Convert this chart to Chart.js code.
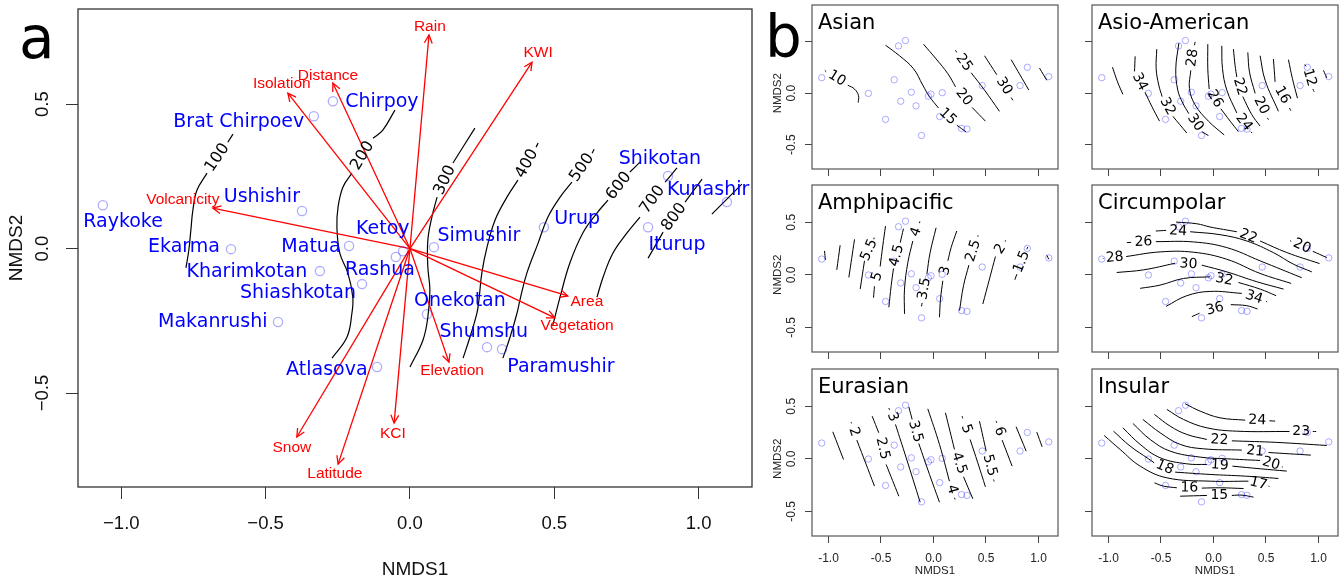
<!DOCTYPE html>
<html>
<head>
<meta charset="utf-8">
<script src="https://cdn.jsdelivr.net/npm/chart.js@4"></script>
<style>
html, body { margin: 0; padding: 0; background: #fff; }
#wrap { position: relative; width: 1344px; height: 583px; overflow: hidden; }
canvas { position: absolute; }
</style>
</head>
<body>
<div id="wrap">
  <canvas id="pa"></canvas>
  <canvas id="b0"></canvas><canvas id="b1"></canvas>
  <canvas id="b2"></canvas><canvas id="b3"></canvas>
  <canvas id="b4"></canvas><canvas id="b5"></canvas>
</div>
<script>
// ---- data -------------------------------------------------------------
const X_TICKS = [-1, -0.5, 0, 0.5, 1];
const Y_TICKS = [-0.5, 0, 0.5];

// NMDS site scores
const siteNames = ['Raykoke', 'Brat Chirpoev', 'Chirpoy', 'Ushishir', 'Ekarma', 'Matua', 'Kharimkotan',
  'Ketoy', 'Rashua', 'Shiashkotan', 'Makanrushi', 'Atlasova', 'Simushir', 'Onekotan', 'Shumshu',
  'Paramushir', 'Urup', 'Shikotan', 'Kunashir', 'Iturup'];
const siteX = [-1.064, -0.333, -0.267, -0.374, -0.620, -0.211, -0.312, -0.024, -0.049, -0.166,
  -0.457, -0.114, 0.083, 0.059, 0.267, 0.319, 0.464, 0.894, 1.098, 0.825];
const siteY = [0.150, 0.458, 0.510, 0.130, -0.002, 0.009, -0.078, -0.009, -0.029, -0.123,
  -0.254, -0.410, 0.005, -0.227, -0.341, -0.348, 0.074, 0.251, 0.161, 0.074];
// where the site names sit (data units)
const siteLabelX = [-0.994, -0.593, -0.097, -0.513, -0.783, -0.343, -0.565, -0.094, -0.104, -0.388,
  -0.683, -0.288, 0.239, 0.173, 0.256, 0.523, 0.579, 0.866, 1.033, 0.925];
const siteLabelY = [0.092, 0.438, 0.507, 0.178, 0.005, 0.005, -0.081, 0.067, -0.074, -0.154,
  -0.254, -0.420, 0.043, -0.182, -0.289, -0.410, 0.102, 0.310, 0.202, 0.012];

// envfit vectors
const envNames = ['Rain', 'KWI', 'Distance', 'Isolation', 'Volcanicity', 'Area', 'Vegetation',
  'Elevation', 'KCI', 'Snow', 'Latitude'];
const envX = [0.066, 0.423, -0.267, -0.423, -0.683, 0.547, 0.502, 0.135, -0.055, -0.392, -0.249];
const envY = [0.739, 0.645, 0.573, 0.538, 0.140, -0.164, -0.240, -0.393, -0.604, -0.652, -0.746];
const envLabelX = [0.069, 0.444, -0.284, -0.444, -0.787, 0.613, 0.579, 0.146, -0.059, -0.409, -0.260];
const envLabelY = [0.766, 0.676, 0.597, 0.569, 0.168, -0.185, -0.268, -0.424, -0.639, -0.688, -0.778];

// ordisurf contours: [level, points]; null marks the gap where the level is written
const elevLines = [
  [100, [[-0.613, 0.396], [-0.631, 0.368], null, [-0.703, 0.261], [-0.738, 0.202], [-0.752, 0.133], [-0.759, 0.064], [-0.766, -0.005], [-0.776, -0.067]]],
  [200, [[-0.052, 0.479], [-0.094, 0.410], [-0.128, 0.382], null, [-0.201, 0.261], [-0.232, 0.213], [-0.249, 0.144], [-0.253, 0.074], [-0.243, -0.016], [-0.215, -0.085], [-0.198, -0.168], [-0.201, -0.223], [-0.218, -0.306], [-0.270, -0.379]]],
  [300, [[0.225, 0.417], [0.149, 0.296], null, [0.094, 0.178], [0.076, 0.109], [0.062, 0.029], [0.062, -0.064], [0.069, -0.144], [0.062, -0.237], [0.045, -0.317], [0.000, -0.410]]],
  [400, [[0.444, 0.365], [0.437, 0.351], null, [0.374, 0.237], [0.336, 0.178], [0.295, 0.099], [0.267, 0.005], [0.249, -0.085], [0.239, -0.178], [0.232, -0.223], [0.208, -0.306], [0.184, -0.379]]],
  [500, [[0.638, 0.344], [0.631, 0.330], null, [0.561, 0.230], [0.520, 0.178], [0.478, 0.109], [0.444, 0.019], [0.405, -0.085], [0.381, -0.178], [0.371, -0.223], [0.347, -0.306], [0.322, -0.379]]],
  [600, [[0.797, 0.299], [0.762, 0.265], null, [0.686, 0.168], [0.648, 0.123], [0.599, 0.054], [0.554, -0.050], [0.520, -0.168], [0.495, -0.265]]],
  [700, [[0.925, 0.279], [0.884, 0.230], null, [0.797, 0.109], [0.752, 0.054], [0.703, -0.016], [0.669, -0.099], [0.648, -0.168]]],
  [800, [[1.012, 0.240], [0.953, 0.161], null, [0.877, 0.057], [0.825, -0.033]]],
  [null, [[1.150, 0.223], [1.046, 0.119]]]
];

const asianLines = [
  [10, [[-1.035, 0.221], [-1.022, 0.208], null, [-0.816, 0.078], [-0.752, 0.040], [-0.714, -0.024], [-0.717, -0.090]]],
  [15, [[-0.457, 0.465], [-0.324, 0.363], [-0.190, 0.237], [-0.102, 0.078], [-0.038, -0.033], [0.048, -0.144], null, [0.222, -0.310], [0.311, -0.376]]],
  [20, [[-0.095, 0.475], [0.025, 0.332], [0.137, 0.189], [0.210, 0.062], null, [0.368, -0.138], [0.495, -0.271]]],
  [25, [[0.210, 0.417], [0.222, 0.395], null, [0.359, 0.198], [0.486, 0.030], [0.629, -0.176]]],
  [30, [[0.486, 0.363], [0.603, 0.179], null, [0.740, -0.043], [0.756, -0.068]]],
  [null, [[0.740, 0.325], [0.908, 0.030]]],
  [null, [[1.010, 0.243], [1.079, 0.125]]]
];

const asioLines = [
  [null, [[-0.962, 0.252], [-0.914, 0.110], [-0.863, -0.011]]],
  [34, [[-0.746, 0.357], [-0.752, 0.211], null, [-0.651, 0.008], [-0.587, -0.129], [-0.514, -0.271]]],
  [32, [[-0.540, 0.427], [-0.546, 0.237], [-0.521, 0.078], [-0.489, -0.033], null, [-0.387, -0.224], [-0.254, -0.386]]],
  [30, [[-0.330, 0.484], [-0.359, 0.237], [-0.340, 0.030], [-0.292, -0.097], [-0.235, -0.198], null, [-0.111, -0.373], [-0.048, -0.411]]],
  [28, [[-0.175, 0.497], [-0.181, 0.465], null, [-0.216, 0.221], [-0.229, 0.046], [-0.175, -0.113], [-0.048, -0.271], [0.102, -0.405]]],
  [26, [[-0.054, 0.475], [-0.054, 0.237], [-0.041, 0.040], null, [0.070, -0.151], [0.159, -0.271], [0.238, -0.373]]],
  [24, [[0.079, 0.459], [0.086, 0.237], [0.127, 0.030], [0.222, -0.192], null, [0.356, -0.373], [0.368, -0.386]]],
  [22, [[0.190, 0.427], [0.206, 0.268], [0.222, 0.157], null, [0.279, -0.033], [0.365, -0.208], [0.444, -0.319]]],
  [20, [[0.327, 0.395], [0.343, 0.205], [0.397, -0.002], null, [0.514, -0.240], [0.524, -0.256]]],
  [null, [[0.444, 0.363], [0.492, 0.125], [0.619, -0.176]]],
  [16, [[0.571, 0.332], [0.587, 0.110], null, [0.724, -0.144], [0.737, -0.170]]],
  [null, [[0.714, 0.325], [0.752, 0.141], [0.800, -0.049]]],
  [12, [[0.867, 0.275], [0.883, 0.262], null, [0.946, 0.040], [0.959, 0.014]]],
  [null, [[1.048, 0.221], [1.079, 0.148]]]
];

const amphiLines = [
  [null, [[-1.038, 0.227], [-1.029, 0.142]]],
  [null, [[-0.889, 0.281], [-0.921, 0.047]]],
  [null, [[-0.752, 0.338], [-0.806, -0.025]]],
  [5.5, [[-0.565, 0.354], [-0.568, 0.338], null, [-0.657, 0.133], [-0.698, -0.136]]],
  [5, [[-0.457, 0.464], [-0.483, 0.275], [-0.508, 0.079], null, [-0.562, -0.110], [-0.571, -0.218]]],
  [4.5, [[-0.286, 0.439], [-0.317, 0.306], null, [-0.381, 0.060], [-0.403, -0.104], [-0.425, -0.309]]],
  [4, [[-0.130, 0.508], [-0.133, 0.492], null, [-0.197, 0.322], [-0.244, 0.117], [-0.276, -0.136], [-0.276, -0.372]]],
  [3.5, [[0.025, 0.448], [-0.032, 0.211], [-0.063, 0.006], null, [-0.108, -0.268], [-0.114, -0.300]]],
  [3, [[0.222, 0.417], [0.168, 0.259], [0.137, 0.133], null, [0.089, -0.057], [0.067, -0.230], [0.057, -0.404]]],
  [2.5, [[0.425, 0.376], [0.422, 0.363], null, [0.337, 0.092], [0.286, -0.104], [0.248, -0.341]]],
  [2, [[0.686, 0.328], [0.683, 0.316], null, [0.590, 0.174], [0.533, -0.041], [0.470, -0.278]]],
  [1.5, [[0.898, 0.265], [0.889, 0.243], null, [0.794, 0.006], [0.775, -0.047]]],
  [null, [[1.079, 0.186], [1.098, 0.148]]]
];

const circLines = [
  [22, [[-0.356, 0.502], [-0.159, 0.486], [-0.032, 0.455], [0.095, 0.432], [0.222, 0.410], null, [0.444, 0.322], [0.698, 0.212], [1.010, 0.107]]],
  [24, [[-0.549, 0.417], [-0.451, 0.423], null, [-0.222, 0.410], [0.063, 0.382], [0.317, 0.322], [0.571, 0.211], [0.762, 0.101], [0.937, 0.028]]],
  [26, [[-0.825, 0.306], [-0.784, 0.309], null, [-0.549, 0.316], [-0.190, 0.313], [0.127, 0.259], [0.444, 0.133], [0.841, -0.028]]],
  [28, [[-1.054, 0.155], [-1.048, 0.155], null, [-0.832, 0.174], [-0.508, 0.218], [-0.190, 0.215], [0.127, 0.148], [0.444, 0.013], [0.740, -0.082]]],
  [30, [[-0.921, 0.022], [-0.667, 0.047], [-0.365, 0.110], null, [-0.111, 0.092], [0.127, 0.028], [0.413, -0.066], [0.667, -0.136]]],
  [32, [[-0.698, -0.129], [-0.508, -0.098], [-0.286, -0.035], [-0.032, -0.019], null, [0.238, -0.073], [0.444, -0.136], [0.597, -0.199]]],
  [34, [[-0.451, -0.300], [-0.254, -0.199], [-0.032, -0.158], [0.270, -0.177], null, [0.502, -0.253], [0.511, -0.259]]],
  [36, [[-0.206, -0.398], [-0.133, -0.366], null, [0.165, -0.284], [0.317, -0.294], [0.419, -0.325]]],
  [20, [[0.730, 0.325], [0.740, 0.319], null, [0.946, 0.224], [1.079, 0.164]]]
];

const eurLines = [
  [null, [[-0.959, 0.257], [-0.857, -0.006]]],
  [2, [[-0.784, 0.349], [-0.781, 0.337], null, [-0.730, 0.178], [-0.562, -0.260]]],
  [2.5, [[-0.584, 0.406], [-0.521, 0.248], null, [-0.451, -0.054], [-0.330, -0.356]]],
  [3, [[-0.425, 0.483], [-0.419, 0.467], null, [-0.362, 0.327], [-0.260, 0.010], [-0.127, -0.413]]],
  [3.5, [[-0.235, 0.495], [-0.203, 0.375], null, [-0.140, 0.146], [-0.038, -0.149], [0.057, -0.413]]],
  [4, [[-0.054, 0.476], [0.057, 0.137], [0.152, -0.213], null, [0.200, -0.371], [0.206, -0.387]]],
  [4.5, [[0.114, 0.438], [0.200, 0.089], null, [0.286, -0.171], [0.375, -0.381]]],
  [5, [[0.273, 0.406], [0.279, 0.384], null, [0.349, 0.184], [0.422, -0.038], [0.495, -0.267]]],
  [5.5, [[0.438, 0.359], [0.502, 0.073], null, [0.571, -0.197], [0.578, -0.216]]],
  [6, [[0.597, 0.359], [0.603, 0.343], null, [0.654, 0.178], [0.749, -0.070]]],
  [null, [[0.787, 0.305], [0.883, 0.073]]],
  [null, [[0.984, 0.254], [1.035, 0.114]]]
];

const insLines = [
  [24, [[-0.270, 0.524], [-0.127, 0.454], [0.063, 0.390], [0.302, 0.368], null, [0.533, 0.362], [0.587, 0.359]]],
  [23, [[-0.444, 0.470], [-0.286, 0.375], [-0.063, 0.295], [0.222, 0.263], [0.724, 0.260], null, [0.946, 0.260], [0.978, 0.260]]],
  [22, [[-0.562, 0.422], [-0.413, 0.311], [-0.254, 0.232], [-0.063, 0.184], null, [0.175, 0.171], [0.603, 0.156], [1.079, 0.127]]],
  [21, [[-0.673, 0.375], [-0.508, 0.248], [-0.317, 0.137], [-0.095, 0.095], [0.270, 0.083], null, [0.524, 0.060], [0.927, 0.035]]],
  [20, [[-0.768, 0.337], [-0.603, 0.184], [-0.413, 0.073], [-0.127, 0.016], [0.127, 0.000], [0.444, -0.016], null, [0.651, -0.076], [0.660, -0.079]]],
  [19, [[-0.863, 0.295], [-0.698, 0.137], [-0.508, 0.010], [-0.254, -0.048], [-0.063, -0.054], null, [0.181, -0.070], [0.444, -0.095], [0.698, -0.117]]],
  [18, [[-0.952, 0.263], [-0.794, 0.121], [-0.619, 0.000], [-0.565, -0.038], null, [-0.365, -0.127], [-0.032, -0.149], [0.302, -0.165], [0.619, -0.187]]],
  [17, [[-1.041, 0.222], [-0.889, 0.089], [-0.698, -0.070], [-0.444, -0.181], [-0.032, -0.213], [0.333, -0.213], null, [0.524, -0.260], [0.533, -0.263]]],
  [16, [[-0.562, -0.229], [-0.476, -0.260], [-0.349, -0.276], null, [-0.111, -0.279], [0.063, -0.276], [0.286, -0.283]]],
  [15, [[-0.317, -0.356], [-0.063, -0.349], null, [0.175, -0.349], [0.270, -0.346], [0.381, -0.365]]]
];

const panelTitles = ['Asian', 'Asio-American', 'Amphipacific', 'Circumpolar', 'Eurasian', 'Insular'];
const panelLines = [asianLines, asioLines, amphiLines, circLines, eurLines, insLines];

// ---- helpers ----------------------------------------------------------
const AXFONT = '"Liberation Sans", Arial, sans-serif';
const TXFONT = '"DejaVu Sans", Verdana, sans-serif';
const PT_COL = 'rgba(0,0,255,0.33)';

function axes(xr, yr, leftW, bottomH, tickLen, tickCol) {
  const grid = { drawOnChartArea: false, drawTicks: true, tickLength: tickLen, color: tickCol, lineWidth: 1 };
  return {
    x: {
      type: 'linear', min: xr[0], max: xr[1],
      afterBuildTicks: s => { s.ticks = X_TICKS.map(v => ({ value: v })); },
      afterFit: s => { s.height = bottomH; s.paddingLeft = 0; s.paddingRight = 0; },
      ticks: { display: false }, grid: grid, border: { display: false }
    },
    y: {
      type: 'linear', min: yr[0], max: yr[1],
      afterBuildTicks: s => { s.ticks = Y_TICKS.map(v => ({ value: v })); },
      afterFit: s => { s.width = leftW; s.paddingTop = 0; s.paddingBottom = 0; },
      ticks: { display: false }, grid: grid, border: { display: false }
    }
  };
}

function contourSets(lines, width) {
  return lines.map(([level, pts]) => ({
    level: level,
    data: pts.map((p, i) => p ? { x: p[0], y: p[1] } : { x: pts[i - 1][0], y: null }),
    showLine: true, spanGaps: false, fill: false,
    borderColor: '#000', borderWidth: width, pointRadius: 0, tension: 0.4
  }));
}

function siteSet(radius, bw) {
  return {
    data: siteX.map((v, i) => ({ x: v, y: siteY[i] })),
    showLine: false, pointStyle: 'circle', pointRadius: radius,
    pointBorderColor: PT_COL, pointBackgroundColor: 'rgba(0,0,0,0)', pointBorderWidth: bw
  };
}

function drawContourLabels(chart, font) {
  const ctx = chart.ctx, xs = chart.scales.x, ys = chart.scales.y;
  ctx.save();
  ctx.font = font; ctx.fillStyle = '#000';
  ctx.textAlign = 'center'; ctx.textBaseline = 'middle';
  chart.data.datasets.forEach(ds => {
    if (ds.level == null) return;
    const k = ds.data.findIndex(p => p.y === null);
    if (k < 1) return;
    const p = ds.data[k - 1], q = ds.data[k + 1];
    const x1 = xs.getPixelForValue(p.x), y1 = ys.getPixelForValue(p.y);
    const x2 = xs.getPixelForValue(q.x), y2 = ys.getPixelForValue(q.y);
    let ang = Math.atan2(y2 - y1, x2 - x1);
    if (ang > Math.PI / 2) ang -= Math.PI;
    else if (ang <= -Math.PI / 2) ang += Math.PI;
    ctx.save();
    ctx.translate((x1 + x2) / 2, (y1 + y2) / 2);
    ctx.rotate(ang);
    ctx.fillText(String(ds.level), 0, 0);
    ctx.restore();
  });
  ctx.restore();
}

function fmt(v, minus) {
  const s = v.toFixed(1);
  return v < 0 ? minus + s.slice(1) : s;
}

function baseOptions(scales, pad) {
  return {
    responsive: false, animation: false, devicePixelRatio: 1, events: [],
    layout: { padding: pad },
    plugins: { legend: { display: false }, tooltip: { enabled: false } },
    scales: scales
  };
}

// ---- panel a ----------------------------------------------------------
(function () {
  const W = 760, H = 583;
  const box = { l: 78, t: 9, r: 752, b: 487 };
  const cv = document.getElementById('pa');
  cv.width = W; cv.height = H; cv.style.left = '0px'; cv.style.top = '0px';

  const arrows = envNames.map((n, i) => ({
    arrow: true, data: [{ x: 0, y: 0 }, { x: envX[i], y: envY[i] }],
    showLine: true, borderColor: '#ff0000', borderWidth: 1.3, pointRadius: 0, tension: 0
  }));

  const deco = {
    id: 'decoA',
    afterDatasetsDraw(chart) {
      const ctx = chart.ctx, xs = chart.scales.x, ys = chart.scales.y;
      drawContourLabels(chart, '16px ' + TXFONT);
      // arrow heads
      ctx.save();
      ctx.strokeStyle = '#ff0000'; ctx.lineWidth = 1.3;
      envX.forEach((v, i) => {
        const x0 = xs.getPixelForValue(0), y0 = ys.getPixelForValue(0);
        const x1 = xs.getPixelForValue(v), y1 = ys.getPixelForValue(envY[i]);
        const a = Math.atan2(y1 - y0, x1 - x0), L = 9, s = 0.45;
        ctx.beginPath();
        ctx.moveTo(x1 - L * Math.cos(a - s), y1 - L * Math.sin(a - s));
        ctx.lineTo(x1, y1);
        ctx.lineTo(x1 - L * Math.cos(a + s), y1 - L * Math.sin(a + s));
        ctx.stroke();
      });
      ctx.restore();
    },
    afterDraw(chart) {
      const ctx = chart.ctx, xs = chart.scales.x, ys = chart.scales.y, a = chart.chartArea;
      ctx.save();
      ctx.strokeStyle = '#333'; ctx.lineWidth = 1.3;
      ctx.strokeRect(a.left, a.top, a.right - a.left, a.bottom - a.top);
      ctx.textAlign = 'center'; ctx.textBaseline = 'middle';
      // vector labels
      ctx.fillStyle = '#ff0000'; ctx.font = '15.5px ' + AXFONT;
      envNames.forEach((n, i) => ctx.fillText(n, xs.getPixelForValue(envLabelX[i]), ys.getPixelForValue(envLabelY[i])));
      // site labels
      ctx.fillStyle = '#0000ff'; ctx.font = '19px ' + TXFONT;
      siteNames.forEach((n, i) => ctx.fillText(n, xs.getPixelForValue(siteLabelX[i]), ys.getPixelForValue(siteLabelY[i])));
      // axes text
      ctx.fillStyle = '#111'; ctx.font = '18.5px ' + AXFONT;
      X_TICKS.forEach(v => ctx.fillText(fmt(v, '\u2212'), xs.getPixelForValue(v), 524));
      Y_TICKS.forEach(v => {
        ctx.save(); ctx.translate(43, ys.getPixelForValue(v)); ctx.rotate(-Math.PI / 2);
        ctx.fillText(fmt(v, '\u2212'), 0, 0); ctx.restore();
      });
      ctx.font = '19px ' + AXFONT;
      ctx.fillText('NMDS1', (a.left + a.right) / 2, 570);
      ctx.save(); ctx.translate(17, (a.top + a.bottom) / 2); ctx.rotate(-Math.PI / 2);
      ctx.fillText('NMDS2', 0, 0); ctx.restore();
      // panel letter
      ctx.fillStyle = '#000'; ctx.font = '58px ' + TXFONT;
      ctx.textAlign = 'left'; ctx.textBaseline = 'alphabetic';
      ctx.fillText('a', 19, 58);
      ctx.restore();
    }
  };

  new Chart(cv, {
    type: 'line',
    data: { datasets: [siteSet(4.6, 1.3)].concat(arrows, contourSets(elevLines, 1.2)) },
    options: baseOptions(axes([-1.150, 1.185], [-0.825, 0.829], box.l, H - box.b, 12, '#333'),
      { top: box.t, right: W - box.r, left: 0, bottom: 0 }),
    plugins: [deco]
  });
})();

// ---- panel b ----------------------------------------------------------
const colCanvas = [[760, 1075], [1075, 1344]];
const rowCanvas = [[0, 177], [177, 361], [361, 583]];
const colBox = [812, 1092];
const rowBox = [2, 185, 369];
const BOX_W = 246, BOX_H = 167;

panelTitles.forEach((title, idx) => {
  const col = idx % 2, row = Math.floor(idx / 2);
  const cx0 = colCanvas[col][0], cw = colCanvas[col][1] - cx0;
  const cy0 = rowCanvas[row][0], ch = rowCanvas[row][1] - cy0;
  const cv = document.getElementById('b' + idx);
  cv.width = cw; cv.height = ch;
  cv.style.left = cx0 + 'px'; cv.style.top = cy0 + 'px';
  const bl = colBox[col] - cx0, bt = rowBox[row] - cy0;

  const deco = {
    id: 'decoB' + idx,
    afterDatasetsDraw(chart) { drawContourLabels(chart, '14px ' + TXFONT); },
    afterDraw(chart) {
      const ctx = chart.ctx, xs = chart.scales.x, ys = chart.scales.y, a = chart.chartArea;
      ctx.save();
      ctx.strokeStyle = '#555'; ctx.lineWidth = 1.2;
      ctx.strokeRect(a.left, a.top, a.right - a.left, a.bottom - a.top);
      ctx.fillStyle = '#000'; ctx.font = '21px ' + TXFONT;
      ctx.textAlign = 'left'; ctx.textBaseline = 'alphabetic';
      ctx.fillText(title, a.left + 6, a.top + 24);
      ctx.fillStyle = '#222'; ctx.textAlign = 'center'; ctx.textBaseline = 'middle';
      if (row === 2) {
        ctx.font = '12px ' + AXFONT;
        X_TICKS.forEach(v => ctx.fillText(fmt(v, '-'), xs.getPixelForValue(v), a.bottom + 23));
        ctx.font = '11.5px ' + AXFONT;
        ctx.fillText('NMDS1', (a.left + a.right) / 2, a.bottom + 35);
      }
      if (col === 0) {
        ctx.font = '12px ' + AXFONT;
        // the top label of the first panel sits under the letter "b"
        Y_TICKS.filter(v => !(idx === 0 && v > 0)).forEach(v => {
          ctx.save(); ctx.translate(a.left - 20, ys.getPixelForValue(v)); ctx.rotate(-Math.PI / 2);
          ctx.fillText(fmt(v, '-'), 0, 0); ctx.restore();
        });
        ctx.font = '11.5px ' + AXFONT;
        ctx.save(); ctx.translate(a.left - 34, ys.getPixelForValue(0)); ctx.rotate(-Math.PI / 2);
        ctx.fillText('NMDS2', 0, 0); ctx.restore();
      }
      if (idx === 0) {
        ctx.fillStyle = '#000'; ctx.font = '58px ' + TXFONT;
        ctx.textAlign = 'left'; ctx.textBaseline = 'alphabetic';
        ctx.fillText('b', 5, 57);
      }
      ctx.restore();
    }
  };

  new Chart(cv, {
    type: 'line',
    data: { datasets: [siteSet(3.2, 1)].concat(contourSets(panelLines[idx], 1)) },
    options: baseOptions(axes([-1.157, 1.186], [-0.735, 0.855], bl, ch - bt - BOX_H, 7, '#444'),
      { top: bt, right: cw - bl - BOX_W, left: 0, bottom: 0 }),
    plugins: [deco]
  });
});
</script>
</body>
</html>
